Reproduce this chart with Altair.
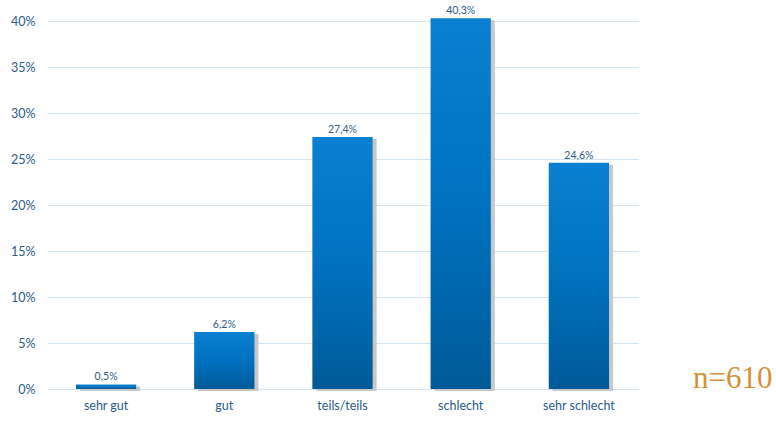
import altair as alt
import pandas as pd

categories = ["sehr gut", "gut", "teils/teils", "schlecht", "sehr schlecht"]
values = [0.5, 6.2, 27.4, 40.3, 24.6]
labels = ["0,5%", "6,2%", "27,4%", "40,3%", "24,6%"]
y_ticks = [0, 5, 10, 15, 20, 25, 30, 35, 40]
note = "n=610"

df = pd.DataFrame({"cat": categories, "val": values, "lab": labels})

FONT = "Lato"
x = alt.X("cat:N", sort=categories, title=None,
          scale=alt.Scale(paddingInner=0.49, paddingOuter=0.245),
          axis=alt.Axis(labelAngle=0, domain=False, ticks=False, labelPadding=10,
                        labelFont=FONT, labelFontSize=12.5, labelColor="#2b5a8a"))
y = alt.Y("val:Q", title=None,
          scale=alt.Scale(domain=[0, 40], nice=False),
          axis=alt.Axis(values=y_ticks, labelExpr="datum.value + '%'", domain=False, ticks=False,
                        gridColor="#d3e3f1", gridWidth=1, labelPadding=12,
                        labelFont=FONT, labelFontSize=12.5, labelColor="#2b5a8a"))

base = alt.Chart(df)
shadow = base.mark_bar(color="#c8c8c8", xOffset=4, yOffset=2).encode(x=x, y=y)
bars = base.mark_bar(color=alt.Gradient(
    gradient="linear", x1=0, y1=0, x2=0, y2=1,
    stops=[alt.GradientStop(color="#0a80d2", offset=0),
           alt.GradientStop(color="#0072c0", offset=0.5),
           alt.GradientStop(color="#005a98", offset=1)])).encode(x=x, y=y)
text = base.mark_text(dy=-7, fontSize=10.5, font=FONT, color="#2b5a8a").encode(
    x=x, y=y, text="lab:N")
ntext = alt.Chart(pd.DataFrame({"t": [note]})).mark_text(
    align="left", baseline="alphabetic", font="Liberation Serif", fontSize=31, color="#d4913a"
).encode(x=alt.value(646), y=alt.value(367), text="t:N")

chart = alt.layer(shadow, bars, text, ntext).properties(
    width=591, height=368,
    autosize=alt.AutoSizeParams(type="none"),
    padding={"left": 47, "top": 21, "right": 138, "bottom": 36},
).configure_view(stroke=None)

chart.save("out.html", embed_options={"renderer": "svg", "actions": False})
